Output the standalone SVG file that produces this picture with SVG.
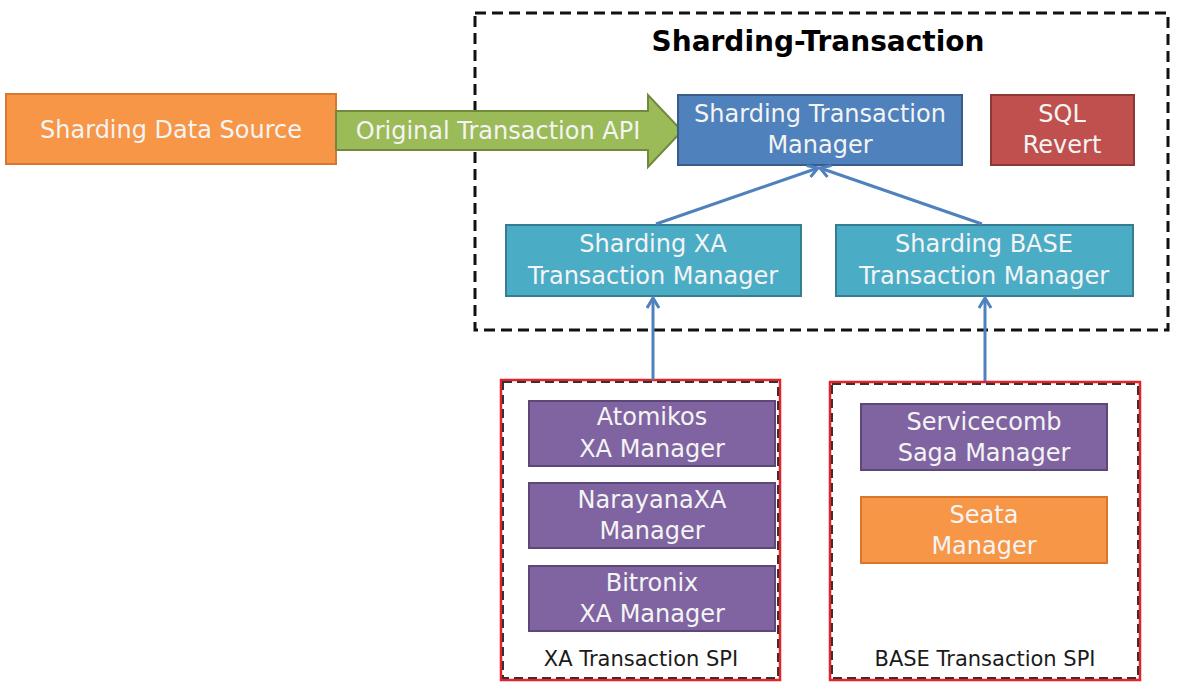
<svg xmlns="http://www.w3.org/2000/svg" width="1178" height="696" viewBox="0 0 1178 696">
<defs>
<style>
.t{font-family:"DejaVu Sans","Liberation Sans",sans-serif;font-size:24px;fill:#F4F4F4;text-anchor:middle}
.lbl{font-family:"DejaVu Sans","Liberation Sans",sans-serif;font-size:21px;fill:#1A1A1A;text-anchor:middle}
.title{font-family:"DejaVu Sans","Liberation Sans",sans-serif;font-size:28px;font-weight:bold;fill:#000;text-anchor:middle}
.orange{fill:#F79646;stroke:#D9772E;stroke-width:2}
.blue{fill:#4F81BD;stroke:#385D8A;stroke-width:2}
.red{fill:#C0504D;stroke:#8C3836;stroke-width:2}
.teal{fill:#4BACC6;stroke:#357D91;stroke-width:2}
.purple{fill:#8064A2;stroke:#5C4776;stroke-width:2}
.conn{stroke:#4F81BD;stroke-width:3;fill:none}
.spi-red{fill:#fff;stroke:#E8202A;stroke-width:2.5}
.spi-dash{fill:none;stroke:#333;stroke-width:2;stroke-dasharray:9 5}
</style>
<marker id="ah" markerWidth="14" markerHeight="14" refX="11" refY="7" orient="auto" markerUnits="userSpaceOnUse">
<path d="M1,1 L11,7 L1,13" fill="none" stroke="#4F81BD" stroke-width="3"/>
</marker>
</defs>
<rect width="1178" height="696" fill="#fff"/>

<g id="sharding-transaction-container">
<rect x="475" y="13" width="693" height="317" fill="none" stroke="#111" stroke-width="3" stroke-dasharray="11 6"/>
<text class="title" x="818" y="51">Sharding-Transaction</text>
</g>

<g id="xa-spi">
<rect class="spi-red" x="501" y="380" width="279" height="300"/>
<rect class="spi-dash" x="503" y="382" width="275" height="296"/>
<text class="lbl" x="641" y="666">XA Transaction SPI</text>
</g>
<g id="base-spi">
<rect class="spi-red" x="830" y="382" width="310" height="298"/>
<rect class="spi-dash" x="832" y="384" width="306" height="294"/>
<text class="lbl" x="985" y="666">BASE Transaction SPI</text>
</g>

<g id="sharding-data-source">
<rect class="orange" x="6" y="94" width="330" height="70"/>
<text class="t" x="171" y="138">Sharding Data Source</text>
</g>

<g id="original-transaction-api">
<path d="M336,111 L648,111 L648,95 L682,131 L648,167 L648,150 L336,150 Z" fill="#9BBB59" stroke="#71893F" stroke-width="2"/>
<text class="t" x="498" y="139">Original Transaction API</text>
</g>

<g id="sharding-transaction-manager">
<rect class="blue" x="678" y="95" width="284" height="70"/>
<text class="t" x="820" y="122">Sharding Transaction</text>
<text class="t" x="820" y="153">Manager</text>
</g>

<g id="sql-revert">
<rect class="red" x="991" y="95" width="143" height="70"/>
<text class="t" x="1062" y="122">SQL</text>
<text class="t" x="1062" y="153">Revert</text>
</g>

<g id="sharding-xa-tm">
<rect class="teal" x="506" y="225" width="295" height="71"/>
<text class="t" x="653" y="252">Sharding XA</text>
<text class="t" x="653" y="284">Transaction Manager</text>
</g>

<g id="sharding-base-tm">
<rect class="teal" x="836" y="225" width="297" height="71"/>
<text class="t" x="984" y="252">Sharding BASE</text>
<text class="t" x="984" y="284">Transaction Manager</text>
</g>

<g id="atomikos">
<rect class="purple" x="529" y="401" width="246" height="65"/>
<text class="t" x="652" y="425">Atomikos</text>
<text class="t" x="652" y="457">XA Manager</text>
</g>
<g id="narayana">
<rect class="purple" x="529" y="483" width="246" height="65"/>
<text class="t" x="652" y="508">NarayanaXA</text>
<text class="t" x="652" y="539">Manager</text>
</g>
<g id="bitronix">
<rect class="purple" x="529" y="566" width="246" height="65"/>
<text class="t" x="652" y="591">Bitronix</text>
<text class="t" x="652" y="622">XA Manager</text>
</g>
<g id="servicecomb">
<rect class="purple" x="861" y="404" width="246" height="66"/>
<text class="t" x="984" y="430">Servicecomb</text>
<text class="t" x="984" y="461">Saga Manager</text>
</g>
<g id="seata">
<rect class="orange" x="861" y="497" width="246" height="66"/>
<text class="t" x="984" y="523">Seata</text>
<text class="t" x="984" y="554">Manager</text>
</g>

<g id="connectors">
<line class="conn" x1="656" y1="224" x2="818" y2="168" marker-end="url(#ah)"/>
<line class="conn" x1="982" y1="224" x2="820" y2="168" marker-end="url(#ah)"/>
<line class="conn" x1="653" y1="380" x2="653" y2="298" marker-end="url(#ah)"/>
<line class="conn" x1="985" y1="381" x2="985" y2="298" marker-end="url(#ah)"/>
</g>
</svg>
